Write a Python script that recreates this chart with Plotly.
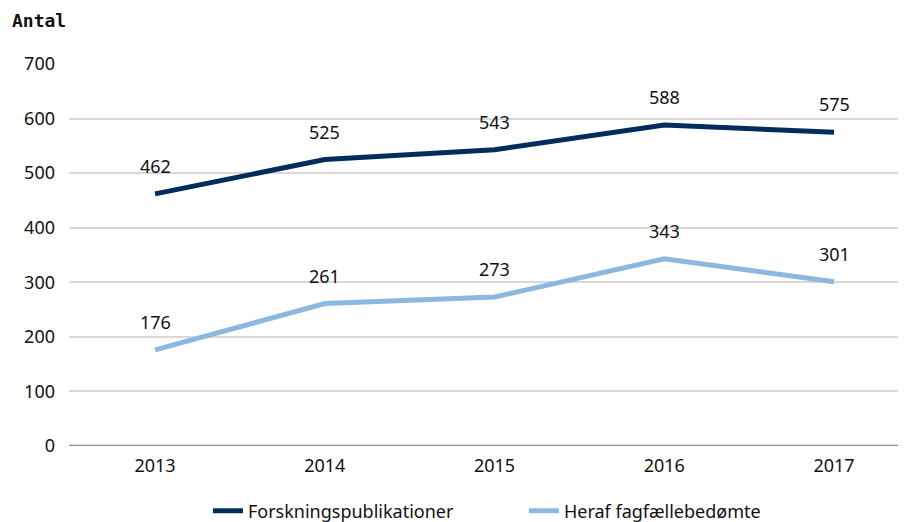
import plotly.graph_objects as go

years = ["2013", "2014", "2015", "2016", "2017"]
forskning = [462, 525, 543, 588, 575]
fagfaelle = [176, 261, 273, 343, 301]
series_names = ["Forskningspublikationer", "Heraf fagfællebedømte"]
colors = ["#002D5A", "#8BB8E0"]
y_ticks = [0, 100, 200, 300, 400, 500, 600, 700]

FONT = "Noto Sans"

fig = go.Figure()
for name, vals, col in zip(series_names, [forskning, fagfaelle], colors):
    fig.add_trace(go.Scatter(x=years, y=vals, mode="lines", name=name,
                             line=dict(color=col, width=5), hoverinfo="skip"))
    for i, v in enumerate(vals):
        fig.add_annotation(x=i, y=v, text=str(v), showarrow=False, yshift=28,
                           font=dict(family=FONT, size=18, color="#111111"))

fig.add_annotation(xref="paper", yref="paper", x=-0.07, y=1.0, yshift=44,
                   xanchor="left", yanchor="middle", text="<b>Antal</b>", showarrow=False,
                   font=dict(family="DejaVu Sans Mono", size=18, color="#111111"))

fig.update_layout(
    width=898, height=514,
    margin=dict(l=61, r=0, t=56, b=76, autoexpand=False),
    plot_bgcolor="white", paper_bgcolor="white",
    showlegend=True,
    legend=dict(orientation="h", x=0.166, xanchor="left", y=-0.17, yanchor="middle",
                font=dict(family=FONT, size=18, color="#111111"),
                entrywidth=271, entrywidthmode="pixels", tracegroupgap=0),
    xaxis=dict(type="category", range=[-0.507, 4.424], showgrid=False, ticks="",
               tickfont=dict(family=FONT, size=18, color="#111111"), showline=False,
               zeroline=False, ticklabelstandoff=7),
    yaxis=dict(range=[0, 700], tickvals=y_ticks, showgrid=True, gridcolor="#D9D9D9",
               gridwidth=2, zeroline=False, ticks="", ticklen=0, ticklabelstandoff=13,
               tickfont=dict(family=FONT, size=18, color="#111111")),
)
fig.add_shape(type="line", xref="paper", yref="y", x0=0, x1=1, y0=0, y1=0,
              line=dict(color="#8C8C8C", width=2.5), layer="above")

fig.write_html("out.html")
